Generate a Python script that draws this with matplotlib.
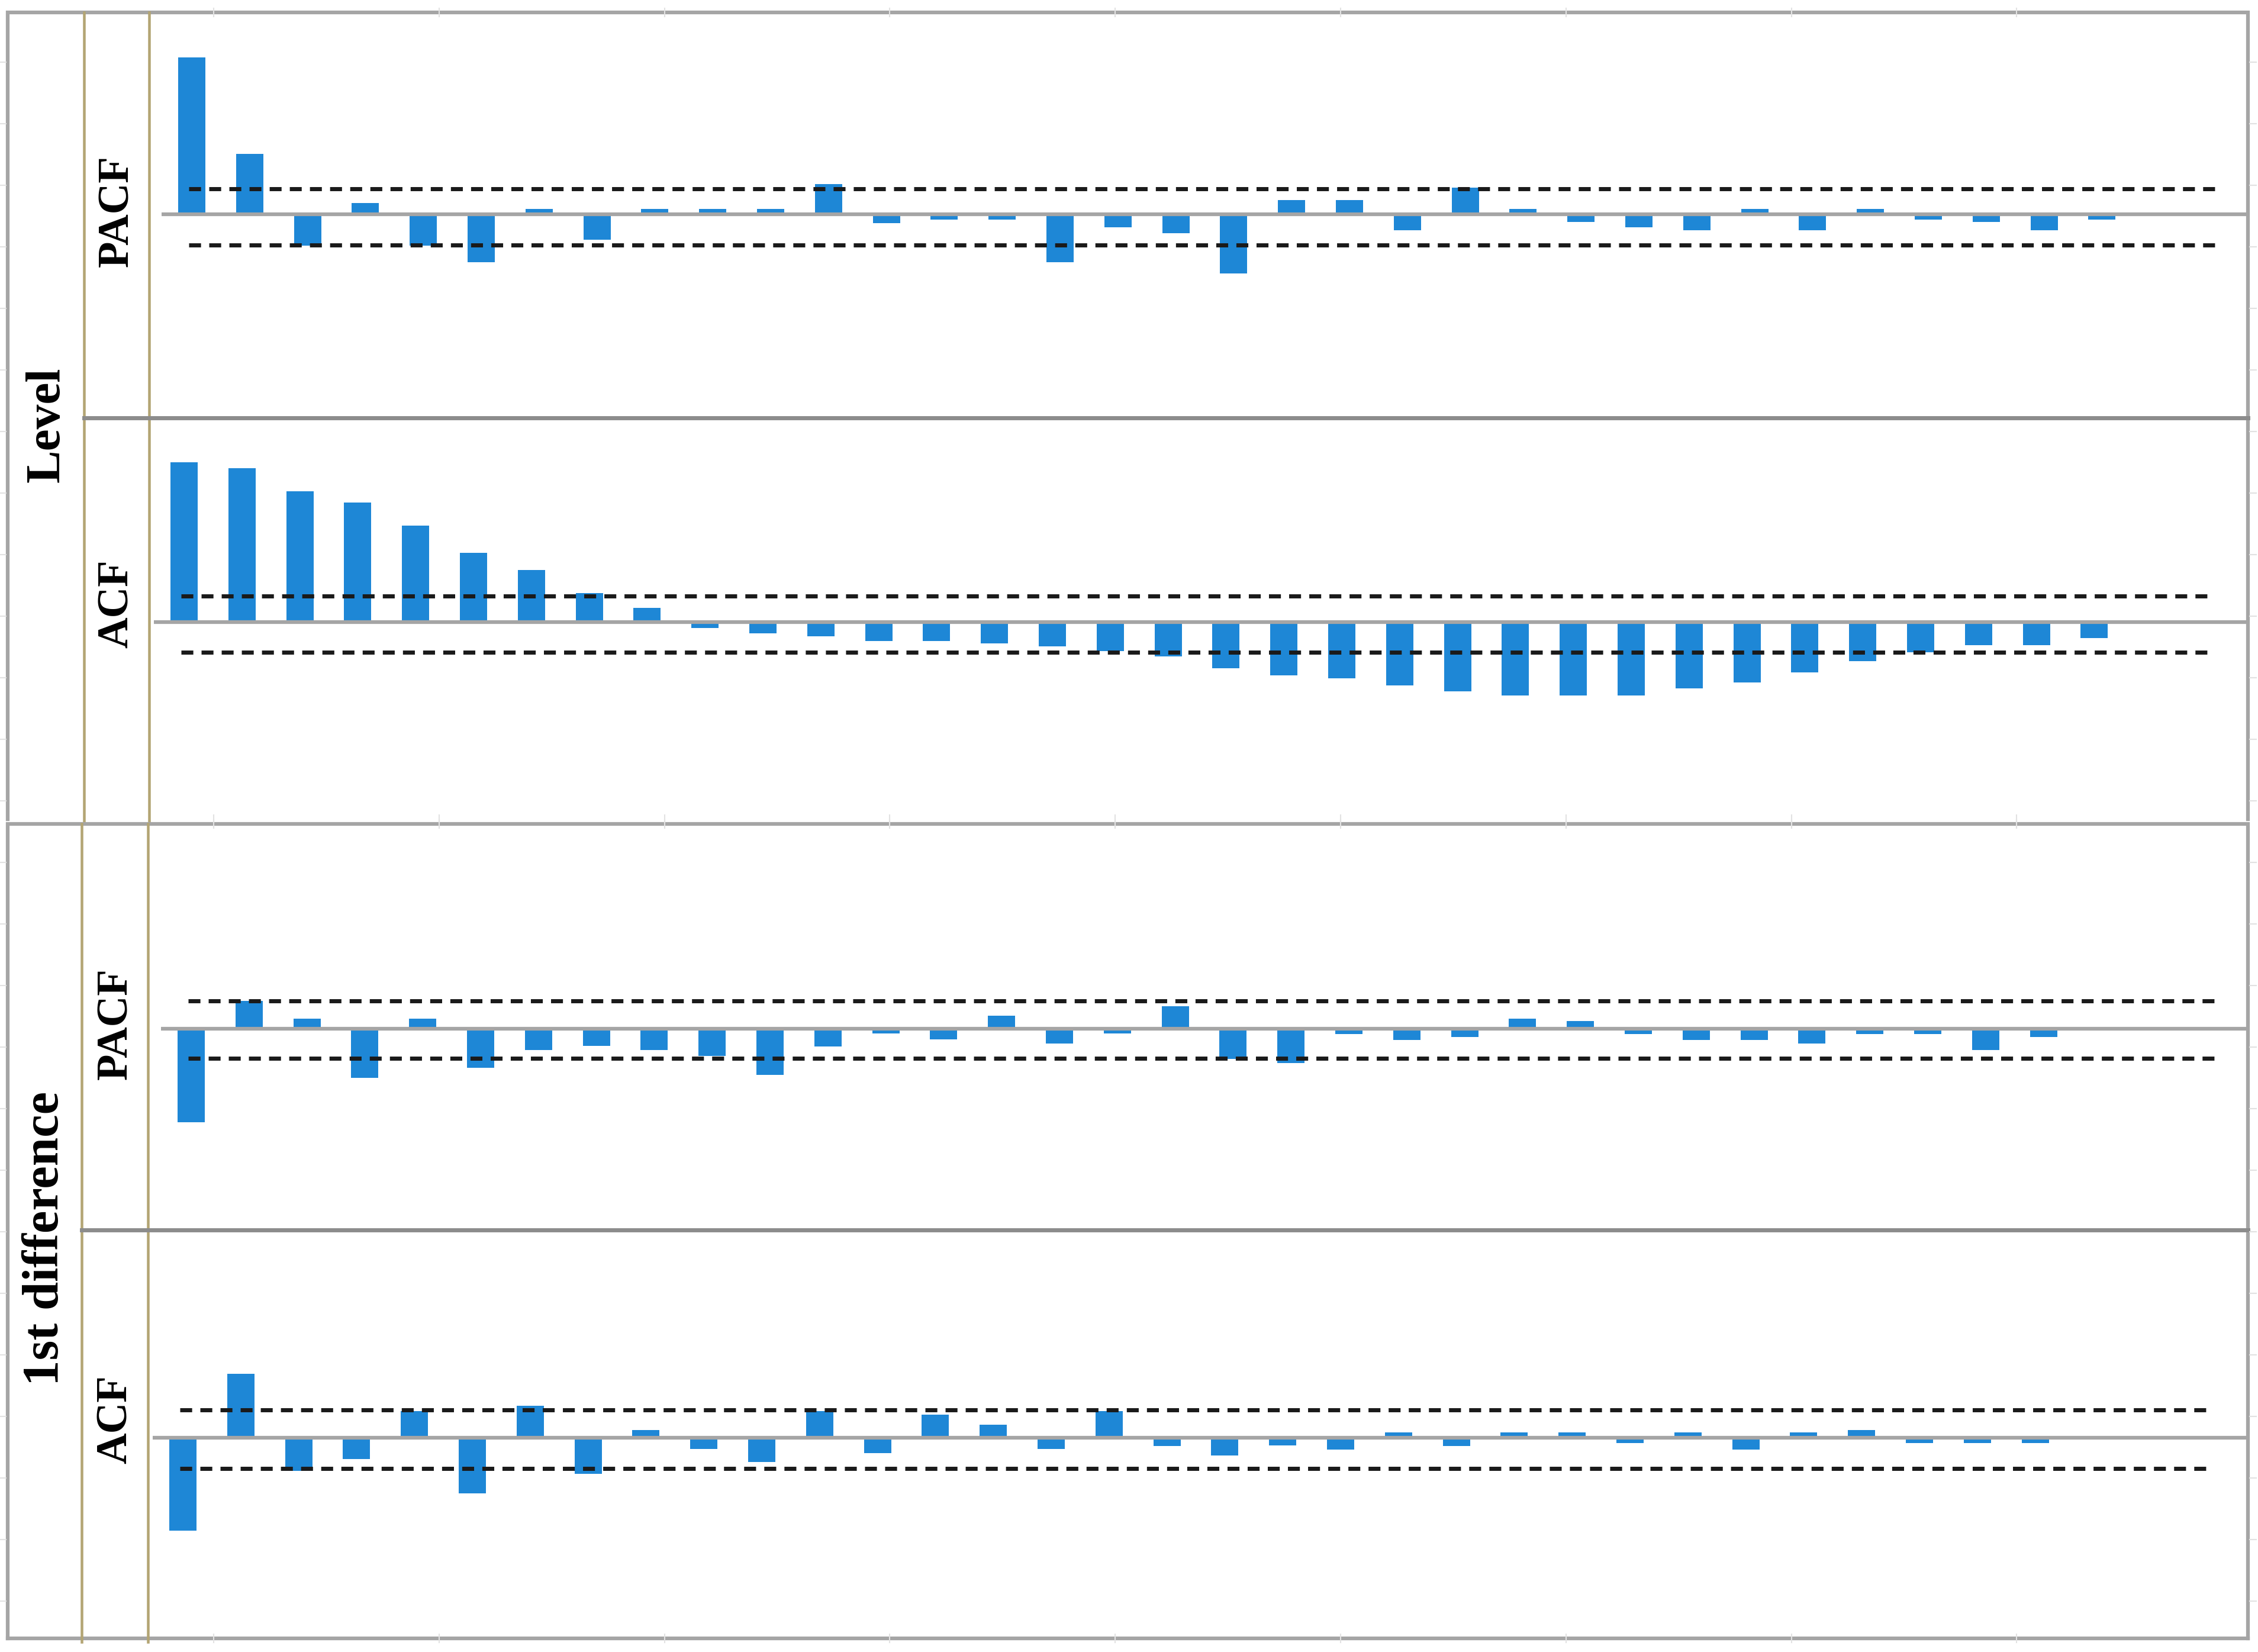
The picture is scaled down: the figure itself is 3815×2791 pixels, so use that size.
import numpy as np
import matplotlib.pyplot as plt

# correlations, lag 1 first
level_pacf = [0.886, 0.341, -0.176, 0.062, -0.176, -0.271, 0.029, -0.143, 0.029, 0.029,
              0.029, 0.171, -0.050, -0.031, -0.031, -0.271, -0.074, -0.107, -0.336, 0.081,
              0.081, -0.091, 0.152, 0.029, -0.045, -0.074, -0.091, 0.029, -0.091, 0.029,
              -0.031, -0.045, -0.091, -0.031]
level_acf = [0.902, 0.870, 0.740, 0.675, 0.545, 0.390, 0.293, 0.163, 0.081, -0.033,
             -0.065, -0.081, -0.106, -0.106, -0.122, -0.138, -0.163, -0.195, -0.260, -0.300,
             -0.317, -0.358, -0.390, -0.415, -0.415, -0.415, -0.374, -0.341, -0.285, -0.220,
             -0.171, -0.130, -0.130, -0.089]
diff_pacf = [-0.527, 0.158, 0.058, -0.276, 0.058, -0.220, -0.120, -0.098, -0.120, -0.154,
             -0.260, -0.100, -0.028, -0.061, 0.075, -0.084, -0.028, 0.127, -0.170, -0.193,
             -0.029, -0.065, -0.046, 0.058, 0.043, -0.029, -0.065, -0.065, -0.084, -0.029,
             -0.029, -0.120, -0.048]
diff_acf = [-0.526, 0.360, -0.186, -0.119, 0.150, -0.314, 0.182, -0.203, 0.042, -0.063,
            -0.136, 0.150, -0.086, 0.131, 0.075, -0.063, 0.150, -0.047, -0.102, -0.045,
            -0.067, 0.030, -0.047, 0.030, 0.030, -0.030, 0.030, -0.067, 0.030, 0.042,
            -0.030, -0.030, -0.030]

# confidence bands (upper, lower)
level_pacf_band = [0.144, -0.174]
level_acf_band = [0.146, -0.172]
diff_pacf_band = [0.158, -0.167]
diff_acf_band = [0.157, -0.175]

group_labels = ['Level', '1st difference']
panel_labels = ['PACF', 'ACF']

#===============================   LAYOUT   ===================================
W, H = 3815, 2791
DPI = 250
BLUE = '#1e87d6'
TAN = '#b3a574'
GRAY = '#a5a5a5'

fig = plt.figure(figsize=(W/DPI, H/DPI), dpi=DPI)

# frame drawn in pixel coordinates
frame = fig.add_axes([0, 0, 1, 1])
frame.set_xlim(0, W)
frame.set_ylim(H, 0)
frame.axis('off')

x_left, x_right = 252, 3798
step = 97.8    # px between lags
scale = 299    # px per unit of correlation

# data, band, top, bottom, zero line, x of lag 1 (pixels)
panels = [(level_pacf, level_pacf_band, 21, 706, 362, 324),
          (level_acf, level_acf_band, 706, 1384, 1051, 311),
          (diff_pacf, diff_pacf_band, 1392, 2078, 1738, 323),
          (diff_acf, diff_acf_band, 2078, 2768, 2429, 309)]

# outer boxes, tan column lines and the PACF/ACF dividers
boxes = [(21, 1384, 142, 252, 706), (1392, 2768, 138, 250, 2078)]
for top, bot, t1, t2, div in boxes:
    frame.plot([13, 13, x_right, x_right], [bot, top, top, bot], color=GRAY, lw=1.8,
               solid_joinstyle='miter')
    if bot > 2000:
        frame.plot([13, x_right], [bot, bot], color=GRAY, lw=1.8)
    frame.plot([t1, t1], [top, bot + 6], color=TAN, lw=1.3)
    frame.plot([t2, t2], [top, bot + 6], color=TAN, lw=1.3)
    frame.plot([t1, x_right], [div, div], color='#8c8c8c', lw=2.0)

# faint tick stubs round the frame
for k in range(9):
    x = 361 + 380.8*k
    for y in (21, 1384, 1392, 2768):
        frame.plot([x, x], [y - 7, y + 7], color='#e2e2e2', lw=0.6)
for y in np.arange(105, 2760, 104):
    frame.plot([1, 10], [y, y], color='#e2e2e2', lw=0.6)
    frame.plot([3801, 3812], [y, y], color='#e2e2e2', lw=0.6)

# labels
font = dict(family='Liberation Serif', weight='bold', rotation=90,
            ha='center', va='center')
frame.text(80, 718, group_labels[0], fontsize=24, **font)
frame.text(78, 2092, group_labels[1], fontsize=25, **font)
for (x, y), lab in zip([(198, 357), (198, 1020), (196, 1730), (196, 2398)],
                       panel_labels*2):
    frame.text(x, y, lab, fontsize=21, **font)

#===============================   PLOT   =====================================
for vals, band, top, bot, zero, x1 in panels:
    ax = fig.add_axes([x_left/W, 1 - bot/H, (x_right - x_left)/W, (bot - top)/H])
    xmax = 1 + (x_right - x1)/step
    ax.set_xlim(1 + (x_left - x1)/step, xmax)
    ax.set_ylim(-(bot - zero)/scale, (zero - top)/scale)
    ax.patch.set_alpha(0)
    ax.axis('off')

    lags = np.arange(1, len(vals) + 1)
    ax.bar(lags, vals, width=0.47, color=BLUE, zorder=2)
    ax.plot([0.48, xmax], [0, 0], color=GRAY, lw=1.8, zorder=3,
            solid_capstyle='butt')
    for b in band:
        ax.plot([0.95, 36.05], [b, b], color='#1a1a1a', lw=2.0,
                dashes=(2.9, 2.0), zorder=4)

plt.savefig('out.png', dpi=DPI)
